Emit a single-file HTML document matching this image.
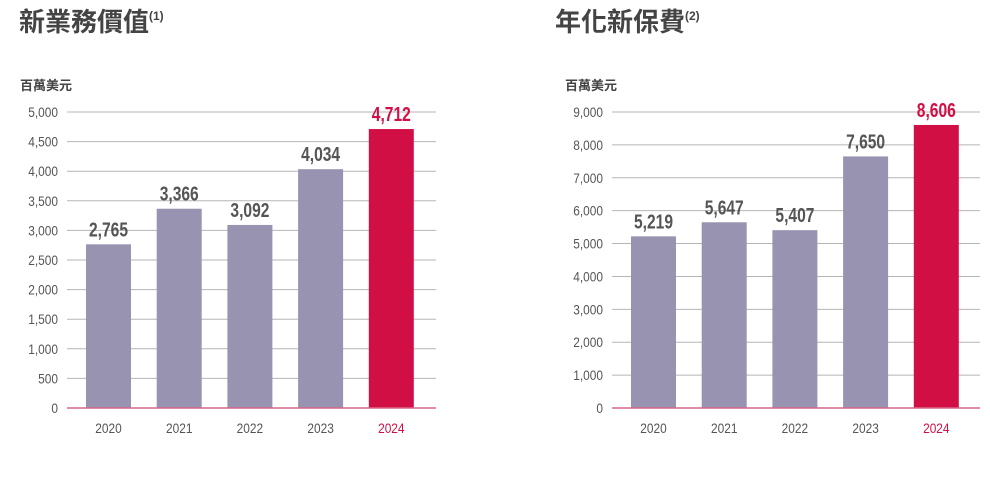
<!DOCTYPE html>
<html><head><meta charset="utf-8"><style>
body{margin:0;background:#fff;width:990px;height:481px;overflow:hidden}
svg{display:block}
.t{font-family:"Liberation Sans","Noto Sans CJK TC",sans-serif}
.c{font-family:"Liberation Sans","Noto Sans CJK TC",sans-serif}
</style></head><body>
<svg id="s" width="990" height="481" xmlns="http://www.w3.org/2000/svg">
<text class="c" x="19" y="31" font-size="26" font-weight="bold" fill="#444">新業務價值<tspan font-size="12" dy="-11">(1)</tspan></text>
<text class="c" x="555" y="31" font-size="26" font-weight="bold" fill="#444">年化新保費<tspan font-size="12" dy="-11">(2)</tspan></text>
<text class="c" x="20" y="90" font-size="13" font-weight="bold" fill="#444">百萬美元</text>
<text class="c" x="565" y="90" font-size="13" font-weight="bold" fill="#444">百萬美元</text>
</svg>
<script>
const years=['2020','2021','2022','2023','2024'];
const nbv=[2765,3366,3092,4034,4712];
const ape=[5219,5647,5407,7650,8606];
const nbvTicks=[0,500,1000,1500,2000,2500,3000,3500,4000,4500,5000];
const apeTicks=[0,1000,2000,3000,4000,5000,6000,7000,8000,9000];
const svg=document.getElementById('s');
const NS='http://www.w3.org/2000/svg';
function mk(t,a,txt){const e=document.createElementNS(NS,t);for(const k in a)e.setAttribute(k,a[k]);if(txt!=null)e.textContent=txt;svg.appendChild(e);return e;}
function sx(x,y,s){return 'translate('+x+','+y+') scale('+s+',1)';}
function chart(prefix,vals,ticks,max,x0,x1,labX,barX0){
  const y=v=>408-v/max*296;
  ticks.forEach(t=>{
    if(t>0){const g=mk('line',{x1:x0,x2:x1,y1:y(t),y2:y(t),stroke:'#b5b5b5','stroke-width':1});
    
    }
    const l=mk('text',{x:0,y:0,transform:sx(labX,y(t)+5,0.85),'text-anchor':'end','font-size':14,fill:'#555',class:'t'},t.toLocaleString('en-US'));
    
    
  });
  vals.forEach((v,i)=>{
    const last=i===vals.length-1;
    const col=last?'#d20f45':'#9893b1';
    const bx=barX0+i*70.7;
    const r=mk('rect',{x:bx,y:y(v),width:45,height:408-y(v),fill:col});
    
    
    const vl=mk('text',{x:0,y:0,transform:sx(bx+22.5,y(v)-8,0.78),'text-anchor':'middle','font-size':20,'font-weight':'bold',fill:last?'#d20f45':'#555',class:'t'},v.toLocaleString('en-US'));
    
    
    const xl=mk('text',{x:0,y:0,transform:sx(bx+22.5,433,0.85),'text-anchor':'middle','font-size':14,fill:last?'#d20f45':'#555',class:'t'},years[i]);
    
    
  });
  const b=mk('line',{x1:x0,x2:x1,y1:408,y2:408,stroke:'#d9668a','stroke-width':1.5});
  
  
}
chart('nbv',nbv,nbvTicks,5000,67,436,58,86);
chart('ape',ape,apeTicks,9000,612,980,603,631);
</script>
</body></html>
